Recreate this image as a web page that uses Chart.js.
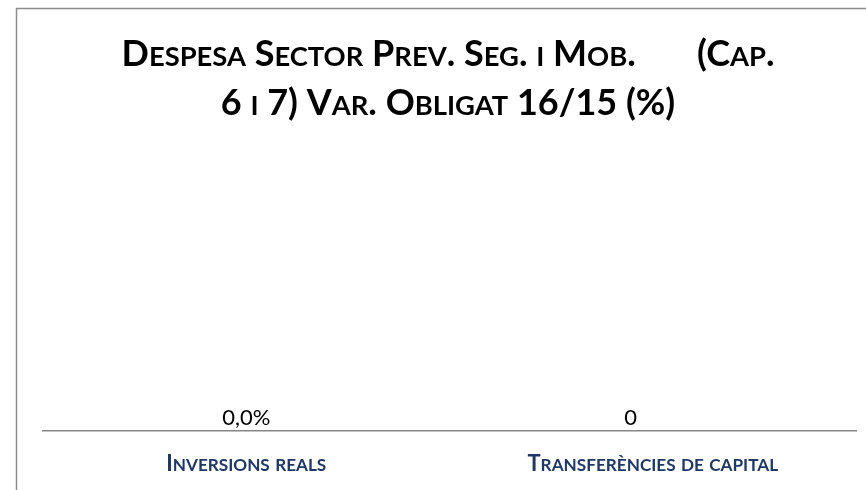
<!DOCTYPE html>
<html>
<head>
<meta charset="utf-8">
<script src="https://cdn.jsdelivr.net/npm/chart.js@4"></script>
<style>
  body { margin: 0; background: #fff; }
</style>
</head>
<body>
<canvas id="myChart" width="866" height="490"></canvas>
<script>
// setup
const categories = ['Inversions reals', 'Transferències de capital'];
const values = [0, 0];
const valueLabels = ['0,0%', '0'];
const titleLines = ['Despesa Sector Prev. Seg. i Mob.       (Cap.', '6 i 7) Var. Obligat 16/15 (%)'];

const FAMILY = 'Lato, "Open Sans", sans-serif';

// versaletes fetes a mà: minúscules -> majúscules més petites
function smallCapsRuns(text) {
  const runs = [];
  for (const ch of text) {
    const low = ch !== ch.toUpperCase();
    const last = runs[runs.length - 1];
    if (last && last.low === low) last.t += ch;
    else runs.push({ t: ch, low });
  }
  return runs;
}

function drawSmallCaps(c, text, cx, y, size, ratio) {
  const runs = smallCapsRuns(text);
  let w = 0;
  runs.forEach(r => {
    c.font = 'bold ' + (r.low ? size * ratio : size) + 'px ' + FAMILY;
    r.w = c.measureText(r.low ? r.t.toUpperCase() : r.t).width;
    w += r.w;
  });
  let x = cx - w / 2;
  c.textAlign = 'left';
  c.textBaseline = 'alphabetic';
  runs.forEach(r => {
    c.font = 'bold ' + (r.low ? size * ratio : size) + 'px ' + FAMILY;
    c.fillText(r.low ? r.t.toUpperCase() : r.t, x, y);
    x += r.w;
  });
}

// marc gris (només vora esquerra i superior es veuen)
const framePlugin = {
  id: 'frame',
  beforeDraw(chart) {
    const c = chart.ctx;
    c.save();
    c.strokeStyle = '#8c8c8c';
    c.lineWidth = 1.5;
    c.strokeRect(16.5, 8.5, chart.width + 20, chart.height + 20);
    c.restore();
  }
};

// títol i etiquetes de categoria en versaletes
const smallCapsPlugin = {
  id: 'smallCaps',
  afterDraw(chart, args, opts) {
    const c = chart.ctx;
    const xs = chart.scales.x;
    c.save();
    c.fillStyle = '#000';
    titleLines.forEach((line, i) => {
      drawSmallCaps(c, line, opts.titleX, opts.titleY + i * opts.titleGap, opts.titleSize, 0.76);
    });
    c.fillStyle = '#1f3864';
    categories.forEach((cat, i) => {
      drawSmallCaps(c, cat, xs.getPixelForValue(i), xs.bottom - opts.tickFromBottom, opts.tickSize, 0.78);
    });
    c.restore();
  }
};

// etiquetes de valor sobre l'eix
const valueLabelPlugin = {
  id: 'valueLabels',
  afterDatasetsDraw(chart, args, opts) {
    const c = chart.ctx;
    const xs = chart.scales.x, ys = chart.scales.y;
    c.save();
    c.font = '22px ' + FAMILY;
    c.fillStyle = '#000';
    c.textAlign = 'center';
    c.textBaseline = 'bottom';
    values.forEach((v, i) => {
      const x = xs.getPixelForValue(i) + (opts.shift[i] || 0);
      const y = ys.getPixelForValue(v) - 2;
      c.fillText(valueLabels[i], x, y);
    });
    c.restore();
  }
};

const data = {
  labels: categories,
  datasets: [{
    label: 'Var. obligat 16/15',
    data: values,
    backgroundColor: '#4f81bd'
  }]
};

const config = {
  type: 'bar',
  data,
  plugins: [framePlugin, valueLabelPlugin, smallCapsPlugin],
  options: {
    responsive: false,
    animation: false,
    layout: { padding: { left: 43, right: 10, top: 140, bottom: 0 } },
    plugins: {
      legend: { display: false },
      tooltip: { enabled: false },
      title: { display: false },
      valueLabels: { shift: [0, -22] },
      smallCaps: { titleX: 448, titleY: 66, titleGap: 49, titleSize: 36, tickSize: 22, tickFromBottom: 19 }
    },
    scales: {
      x: {
        grid: { display: false },
        border: { display: true, color: '#868686', width: 1.5 },
        afterFit(scale) { scale.height = 59; },
        ticks: { display: false }
      },
      y: {
        display: false,
        min: 0,
        max: 10
      }
    }
  }
};

const ctx = document.getElementById('myChart');
const myChart = new Chart(ctx, config);
</script>
</body>
</html>
